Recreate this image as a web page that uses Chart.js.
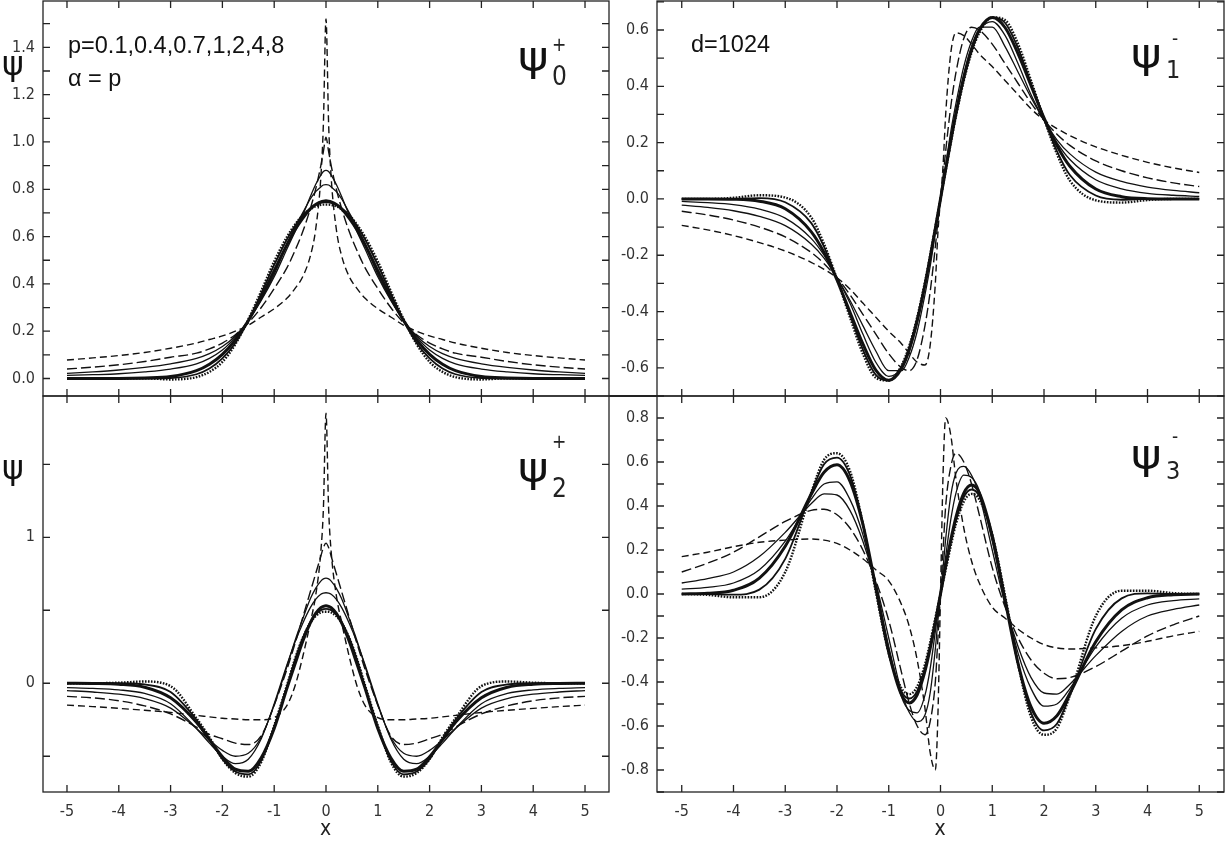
<!DOCTYPE html>
<html><head><meta charset="utf-8">
<script src="https://cdn.jsdelivr.net/npm/chart.js@4.4.1/dist/chart.umd.min.js"></script>
<style>
html,body{margin:0;padding:0;background:#fff}
body{width:1225px;height:845px;overflow:hidden;position:relative}
canvas{position:absolute;left:0;top:0}
.t{position:absolute;white-space:nowrap;line-height:1;color:#111;font-family:'Liberation Sans',Arial,sans-serif}
.g{font-family:'DejaVu Sans',sans-serif}
.w{transform:scaleX(1.13);transform-origin:0 0}
.c{font-family:'DejaVu Sans Condensed','DejaVu Sans',sans-serif;color:#222}
.bar{position:absolute;background:#222}
</style></head><body>
<canvas id="cA" width="1225" height="845"></canvas>
<canvas id="cB" width="1225" height="845"></canvas>
<canvas id="cC" width="1225" height="845"></canvas>
<canvas id="cD" width="1225" height="845"></canvas>
<div class="bar" style="left:609px;top:395.4px;width:48px;height:1.3px"></div>

<div class="t" style="left:68px;top:33.6px;font-size:23.5px">p=0.1,0.4,0.7,1,2,4,8</div>
<div class="t" style="left:68px;top:66.6px;font-size:23.5px">α = p</div>
<div class="t" style="left:691px;top:33.4px;font-size:23.5px">d=1024</div>

<div class="t g" style="left:2px;top:47px;font-size:33px">ψ</div>
<div class="t g" style="left:2px;top:451px;font-size:33px">ψ</div>

<div class="t g w" style="left:518px;top:36px;font-size:41px">ψ</div>
<div class="t c" style="left:552px;top:63px;font-size:26px">0</div>
<div class="t c" style="left:552px;top:35px;font-size:19px">+</div>

<div class="t g w" style="left:1131px;top:33px;font-size:41px">ψ</div>
<div class="t c" style="left:1166px;top:57px;font-size:25px">1</div>
<div class="t c" style="left:1172px;top:28.5px;font-size:19px">-</div>

<div class="t g w" style="left:518px;top:447px;font-size:41px">ψ</div>
<div class="t c" style="left:552px;top:475px;font-size:26px">2</div>
<div class="t c" style="left:552px;top:432px;font-size:19px">+</div>

<div class="t g w" style="left:1131px;top:434px;font-size:41px">ψ</div>
<div class="t c" style="left:1166px;top:458px;font-size:25px">3</div>
<div class="t c" style="left:1172px;top:427px;font-size:19px">-</div>

<div class="t c" style="left:320px;top:818px;font-size:21px">x</div>
<div class="t c" style="left:934.5px;top:818px;font-size:21px">x</div>

<script>
// ---------- data ----------
const X = [-5,-4.5,-4,-3.5,-3,-2.5,-2.25,-2,-1.75,-1.5,-1.25,-1,-0.75,-0.6,-0.45,-0.3,-0.2,-0.1,-0.05,0,0.05,0.1,0.2,0.3,0.45,0.6,0.75,1,1.25,1.5,1.75,2,2.25,2.5,3,3.5,4,4.5,5];
const X_TICKS = [-5,-4,-3,-2,-1,0,1,2,3,4,5];
const P_LABELS = ['0.1','0.4','0.7','1','2','4','8'];

// psi_0^+
const A_P01 = [0.078,0.087,0.097,0.11,0.128,0.15,0.165,0.18,0.2,0.225,0.26,0.295,0.34,0.38,0.43,0.52,0.63,0.85,1.08,1.52,1.08,0.85,0.63,0.52,0.43,0.38,0.34,0.295,0.26,0.225,0.2,0.18,0.165,0.15,0.128,0.11,0.097,0.087,0.078];
const A_P04 = [0.04,0.048,0.058,0.072,0.09,0.107,0.125,0.15,0.185,0.235,0.3,0.38,0.47,0.54,0.62,0.72,0.8,0.9,0.96,1.02,0.96,0.9,0.8,0.72,0.62,0.54,0.47,0.38,0.3,0.235,0.185,0.15,0.125,0.107,0.09,0.072,0.058,0.048,0.04];
const A_P07 = [0.022,0.028,0.036,0.047,0.062,0.085,0.105,0.135,0.18,0.245,0.33,0.43,0.55,0.62,0.69,0.77,0.82,0.86,0.875,0.88,0.875,0.86,0.82,0.77,0.69,0.62,0.55,0.43,0.33,0.245,0.18,0.135,0.105,0.085,0.062,0.047,0.036,0.028,0.022];
const A_P1  = [0.013,0.016,0.02,0.028,0.04,0.062,0.085,0.12,0.175,0.245,0.335,0.44,0.57,0.64,0.7,0.76,0.79,0.81,0.818,0.82,0.818,0.81,0.79,0.76,0.7,0.64,0.57,0.44,0.335,0.245,0.175,0.12,0.085,0.062,0.04,0.028,0.02,0.016,0.013];
const A_P2  = [0,0,0,0.002,0.008,0.033,0.06,0.102,0.163,0.244,0.344,0.456,0.567,0.628,0.677,0.718,0.736,0.747,0.75,0.751,0.75,0.747,0.736,0.718,0.677,0.628,0.567,0.456,0.344,0.244,0.163,0.102,0.06,0.033,0.008,0.002,0,0,0];
const A_P4  = [0,0,0,0,0.002,0.018,0.042,0.085,0.15,0.245,0.36,0.48,0.59,0.645,0.69,0.72,0.735,0.743,0.745,0.745,0.745,0.743,0.735,0.72,0.69,0.645,0.59,0.48,0.36,0.245,0.15,0.085,0.042,0.018,0.002,0,0,0,0];
const A_P8  = [0,0,0,0.001,-0.004,0.006,0.028,0.07,0.145,0.25,0.37,0.495,0.6,0.65,0.69,0.716,0.728,0.734,0.735,0.735,0.735,0.734,0.728,0.716,0.69,0.65,0.6,0.495,0.37,0.25,0.145,0.07,0.028,0.006,-0.004,0.001,0,0,0];

// psi_1^-
const B_P01 = [-0.094,-0.11,-0.13,-0.155,-0.185,-0.225,-0.25,-0.28,-0.32,-0.37,-0.42,-0.47,-0.515,-0.55,-0.58,-0.59,-0.52,-0.3,-0.12,0,0.12,0.3,0.52,0.59,0.58,0.55,0.515,0.47,0.42,0.37,0.32,0.28,0.25,0.225,0.185,0.155,0.13,0.11,0.094];
const B_P04 = [-0.044,-0.057,-0.075,-0.1,-0.135,-0.19,-0.23,-0.28,-0.34,-0.41,-0.48,-0.55,-0.6,-0.61,-0.57,-0.45,-0.33,-0.17,-0.08,0,0.08,0.17,0.33,0.45,0.57,0.61,0.6,0.55,0.48,0.41,0.34,0.28,0.23,0.19,0.135,0.1,0.075,0.057,0.044];
const B_P07 = [-0.022,-0.03,-0.042,-0.062,-0.095,-0.16,-0.21,-0.28,-0.36,-0.45,-0.54,-0.61,-0.61,-0.56,-0.47,-0.34,-0.24,-0.12,-0.06,0,0.06,0.12,0.24,0.34,0.47,0.56,0.61,0.61,0.54,0.45,0.36,0.28,0.21,0.16,0.095,0.062,0.042,0.03,0.022];
const B_P1  = [-0.009,-0.013,-0.02,-0.036,-0.068,-0.14,-0.2,-0.28,-0.37,-0.48,-0.58,-0.63,-0.6,-0.54,-0.44,-0.31,-0.21,-0.105,-0.053,0,0.053,0.105,0.21,0.31,0.44,0.54,0.6,0.63,0.58,0.48,0.37,0.28,0.2,0.14,0.068,0.036,0.02,0.013,0.009];
const B_P2  = [0,0,-0.001,-0.008,-0.035,-0.116,-0.19,-0.288,-0.402,-0.515,-0.608,-0.644,-0.601,-0.532,-0.432,-0.305,-0.208,-0.105,-0.053,0,0.053,0.105,0.208,0.305,0.432,0.532,0.601,0.644,0.608,0.515,0.402,0.288,0.19,0.116,0.035,0.008,0.001,0,0];
const B_P4  = [0,0,0,0.003,-0.012,-0.085,-0.17,-0.285,-0.41,-0.535,-0.625,-0.645,-0.595,-0.525,-0.425,-0.3,-0.205,-0.103,-0.052,0,0.052,0.103,0.205,0.3,0.425,0.525,0.595,0.645,0.625,0.535,0.41,0.285,0.17,0.085,0.012,-0.003,0,0,0];
const B_P8  = [0,0,0.004,0.013,0.005,-0.065,-0.16,-0.285,-0.42,-0.55,-0.635,-0.645,-0.59,-0.52,-0.42,-0.295,-0.2,-0.1,-0.05,0,0.05,0.1,0.2,0.295,0.42,0.52,0.59,0.645,0.635,0.55,0.42,0.285,0.16,0.065,-0.005,-0.013,-0.004,0,0];

// psi_2^+
const C_P01 = [-0.15,-0.16,-0.172,-0.185,-0.2,-0.22,-0.23,-0.24,-0.245,-0.25,-0.25,-0.235,-0.15,-0.02,0.18,0.42,0.6,0.9,1.2,1.85,1.2,0.9,0.6,0.42,0.18,-0.02,-0.15,-0.235,-0.25,-0.25,-0.245,-0.24,-0.23,-0.22,-0.2,-0.185,-0.172,-0.16,-0.15];
const C_P04 = [-0.09,-0.1,-0.12,-0.155,-0.21,-0.3,-0.35,-0.38,-0.41,-0.42,-0.36,-0.15,0.1,0.27,0.45,0.63,0.75,0.87,0.93,0.96,0.93,0.87,0.75,0.63,0.45,0.27,0.1,-0.15,-0.36,-0.42,-0.41,-0.38,-0.35,-0.3,-0.21,-0.155,-0.12,-0.1,-0.09];
const C_P07 = [-0.05,-0.06,-0.075,-0.105,-0.17,-0.31,-0.39,-0.46,-0.5,-0.48,-0.37,-0.15,0.12,0.29,0.44,0.58,0.65,0.7,0.715,0.72,0.715,0.7,0.65,0.58,0.44,0.29,0.12,-0.15,-0.37,-0.48,-0.5,-0.46,-0.39,-0.31,-0.17,-0.105,-0.075,-0.06,-0.05];
const C_P1  = [-0.03,-0.035,-0.045,-0.07,-0.14,-0.31,-0.41,-0.5,-0.55,-0.52,-0.38,-0.14,0.13,0.28,0.41,0.52,0.575,0.61,0.618,0.62,0.618,0.61,0.575,0.52,0.41,0.28,0.13,-0.14,-0.38,-0.52,-0.55,-0.5,-0.41,-0.31,-0.14,-0.07,-0.045,-0.035,-0.03];
const C_P2  = [0,-0.001,-0.006,-0.027,-0.1,-0.268,-0.386,-0.503,-0.589,-0.603,-0.51,-0.31,-0.03,0.13,0.286,0.416,0.479,0.518,0.527,0.531,0.527,0.518,0.479,0.416,0.286,0.13,-0.03,-0.31,-0.51,-0.603,-0.589,-0.503,-0.386,-0.268,-0.1,-0.027,-0.006,-0.001,0];
const C_P4  = [0,0,0,-0.008,-0.06,-0.25,-0.38,-0.52,-0.605,-0.625,-0.53,-0.3,-0.02,0.16,0.31,0.42,0.47,0.5,0.508,0.51,0.508,0.5,0.47,0.42,0.31,0.16,-0.02,-0.3,-0.53,-0.625,-0.605,-0.52,-0.38,-0.25,-0.06,-0.008,0,0,0];
const C_P8  = [0,0,0.004,0.012,-0.02,-0.24,-0.37,-0.52,-0.615,-0.64,-0.54,-0.29,-0.01,0.165,0.31,0.415,0.46,0.485,0.49,0.49,0.49,0.485,0.46,0.415,0.31,0.165,-0.01,-0.29,-0.54,-0.64,-0.615,-0.52,-0.37,-0.24,-0.02,0.012,0.004,0,0];

// psi_3^-
const D_P01 = [0.17,0.19,0.215,0.235,0.245,0.25,0.245,0.23,0.2,0.16,0.11,0.06,-0.05,-0.15,-0.3,-0.52,-0.72,-0.8,-0.55,0,0.55,0.8,0.72,0.52,0.3,0.15,0.05,-0.06,-0.11,-0.16,-0.2,-0.23,-0.245,-0.25,-0.245,-0.235,-0.215,-0.19,-0.17];
const D_P04 = [0.1,0.14,0.19,0.26,0.33,0.38,0.385,0.36,0.3,0.2,0.06,-0.12,-0.36,-0.5,-0.6,-0.64,-0.58,-0.4,-0.2,0,0.2,0.4,0.58,0.64,0.6,0.5,0.36,0.12,-0.06,-0.2,-0.3,-0.36,-0.385,-0.38,-0.33,-0.26,-0.19,-0.14,-0.1];
const D_P07 = [0.05,0.07,0.1,0.17,0.28,0.41,0.455,0.45,0.38,0.24,0.05,-0.2,-0.45,-0.54,-0.58,-0.55,-0.45,-0.25,-0.12,0,0.12,0.25,0.45,0.55,0.58,0.54,0.45,0.2,-0.05,-0.24,-0.38,-0.45,-0.455,-0.41,-0.28,-0.17,-0.1,-0.07,-0.05];
const D_P1  = [0.022,0.03,0.05,0.11,0.24,0.43,0.5,0.51,0.43,0.27,0.03,-0.24,-0.47,-0.53,-0.54,-0.46,-0.34,-0.17,-0.08,0,0.08,0.17,0.34,0.46,0.54,0.53,0.47,0.24,-0.03,-0.27,-0.43,-0.51,-0.5,-0.43,-0.24,-0.11,-0.05,-0.03,-0.022];
const D_P2  = [0,0.003,0.017,0.072,0.217,0.452,0.553,0.587,0.513,0.317,0.031,-0.263,-0.46,-0.495,-0.458,-0.351,-0.248,-0.129,-0.065,0,0.065,0.129,0.248,0.351,0.458,0.495,0.46,0.263,-0.031,-0.317,-0.513,-0.587,-0.553,-0.452,-0.217,-0.072,-0.017,-0.003,0];
const D_P4  = [0,0,-0.003,0.02,0.16,0.46,0.59,0.62,0.54,0.32,0.02,-0.27,-0.445,-0.475,-0.44,-0.335,-0.235,-0.12,-0.06,0,0.06,0.12,0.235,0.335,0.44,0.475,0.445,0.27,-0.02,-0.32,-0.54,-0.62,-0.59,-0.46,-0.16,-0.02,0.003,0,0];
const D_P8  = [0,-0.004,-0.015,-0.015,0.1,0.46,0.61,0.64,0.56,0.32,0.01,-0.27,-0.43,-0.455,-0.42,-0.32,-0.22,-0.11,-0.055,0,0.055,0.11,0.22,0.32,0.42,0.455,0.43,0.27,-0.01,-0.32,-0.56,-0.64,-0.61,-0.46,-0.1,0.015,0.015,0.004,0];

// ---------- styling ----------
const STYLES = [
  {w:1.4, dash:[7,4]},
  {w:1.4, dash:[10,4]},
  {w:1.3, dash:[]},
  {w:1.3, dash:[]},
  {w:3.0, dash:[]},
  {w:1.8, dash:[]},
  {w:2.4, dash:[1.6,1.4]}
];
const TICK_FONT = {family:"'DejaVu Sans Condensed','DejaVu Sans',sans-serif", size:16};

const frameTicks = {
  id:'frameTicks',
  afterDraw(chart){
    const {ctx, chartArea:a, scales:{x, y}} = chart;
    ctx.save();
    ctx.strokeStyle = '#222';
    ctx.lineWidth = 1.3;
    ctx.setLineDash([]);
    ctx.strokeRect(a.left, a.top, a.right - a.left, a.bottom - a.top);
    ctx.beginPath();
    X_TICKS.forEach(v => {
      const px = x.getPixelForValue(v);
      ctx.moveTo(px, a.bottom); ctx.lineTo(px, a.bottom - 7);
      ctx.moveTo(px, a.top); ctx.lineTo(px, a.top + 7);
    });
    y.ticks.forEach(t => {
      const py = y.getPixelForValue(t.value);
      ctx.moveTo(a.left, py); ctx.lineTo(a.left + 7, py);
      ctx.moveTo(a.right, py); ctx.lineTo(a.right - 7, py);
    });
    ctx.stroke();
    ctx.restore();
  }
};

const fmtEven = v => (Math.round(v * 10) % 2 === 0) ? (Math.round(v * 10) / 10).toFixed(1) : '';
const fmtInt = v => (Math.abs(v - Math.round(v)) < 1e-9) ? String(Math.round(v)) : '';

function makeChart(id, series, c){
  return new Chart(document.getElementById(id), {
    type:'line',
    data:{
      datasets: series.map((ys, i) => ({
        label:'p=' + P_LABELS[i],
        data: X.map((xv, k) => ({x:xv, y:ys[k]})),
        borderColor:'#111',
        borderWidth: STYLES[i].w,
        borderDash: STYLES[i].dash,
        pointRadius:0,
        fill:false,
        cubicInterpolationMode:'monotone'
      }))
    },
    options:{
      responsive:false,
      animation:false,
      devicePixelRatio:1,
      events:[],
      layout:{padding:c.pad},
      plugins:{legend:{display:false}, tooltip:{enabled:false}},
      scales:{
        x:{
          type:'linear', min:c.xMin, max:c.xMax, display:c.showX,
          grid:{display:false, drawTicks:false}, border:{display:false},
          ticks:{stepSize:1, autoSkip:false, includeBounds:false, padding:10, color:'#333', font:TICK_FONT, maxRotation:0},
          afterFit: s => { s.height = c.showX ? 40 : 0; s.paddingLeft = 0; s.paddingRight = 0; }
        },
        y:{
          type:'linear', min:c.yMin, max:c.yMax,
          grid:{display:false, drawTicks:false}, border:{display:false},
          ticks:{stepSize:c.yStep, autoSkip:false, includeBounds:false, padding:8, color:'#333', font:TICK_FONT, callback:c.fmt},
          afterFit: s => { s.width = c.yW; s.paddingTop = 0; s.paddingBottom = 0; }
        }
      }
    },
    plugins:[frameTicks]
  });
}

makeChart('cA', [A_P01,A_P04,A_P07,A_P1,A_P2,A_P4,A_P8], {
  xMin:-5.463, xMax:5.463, yMin:-0.074, yMax:1.596, yStep:0.1, fmt:fmtEven, yW:43, showX:false,
  pad:{left:0, top:1, right:616, bottom:449}
});
makeChart('cB', [B_P01,B_P04,B_P07,B_P1,B_P2,B_P4,B_P8], {
  xMin:-5.478, xMax:5.478, yMin:-0.70, yMax:0.703, yStep:0.1, fmt:fmtEven, yW:45, showX:false,
  pad:{left:612, top:1, right:1, bottom:449}
});
makeChart('cC', [C_P01,C_P04,C_P07,C_P1,C_P2,C_P4,C_P8], {
  xMin:-5.463, xMax:5.463, yMin:-0.745, yMax:1.968, yStep:0.5, fmt:fmtInt, yW:43, showX:true,
  pad:{left:0, top:396, right:616, bottom:13}
});
makeChart('cD', [D_P01,D_P04,D_P07,D_P1,D_P2,D_P4,D_P8], {
  xMin:-5.478, xMax:5.478, yMin:-0.9, yMax:0.9, yStep:0.1, fmt:fmtEven, yW:45, showX:true,
  pad:{left:612, top:396, right:1, bottom:13}
});
</script>
</body></html>
